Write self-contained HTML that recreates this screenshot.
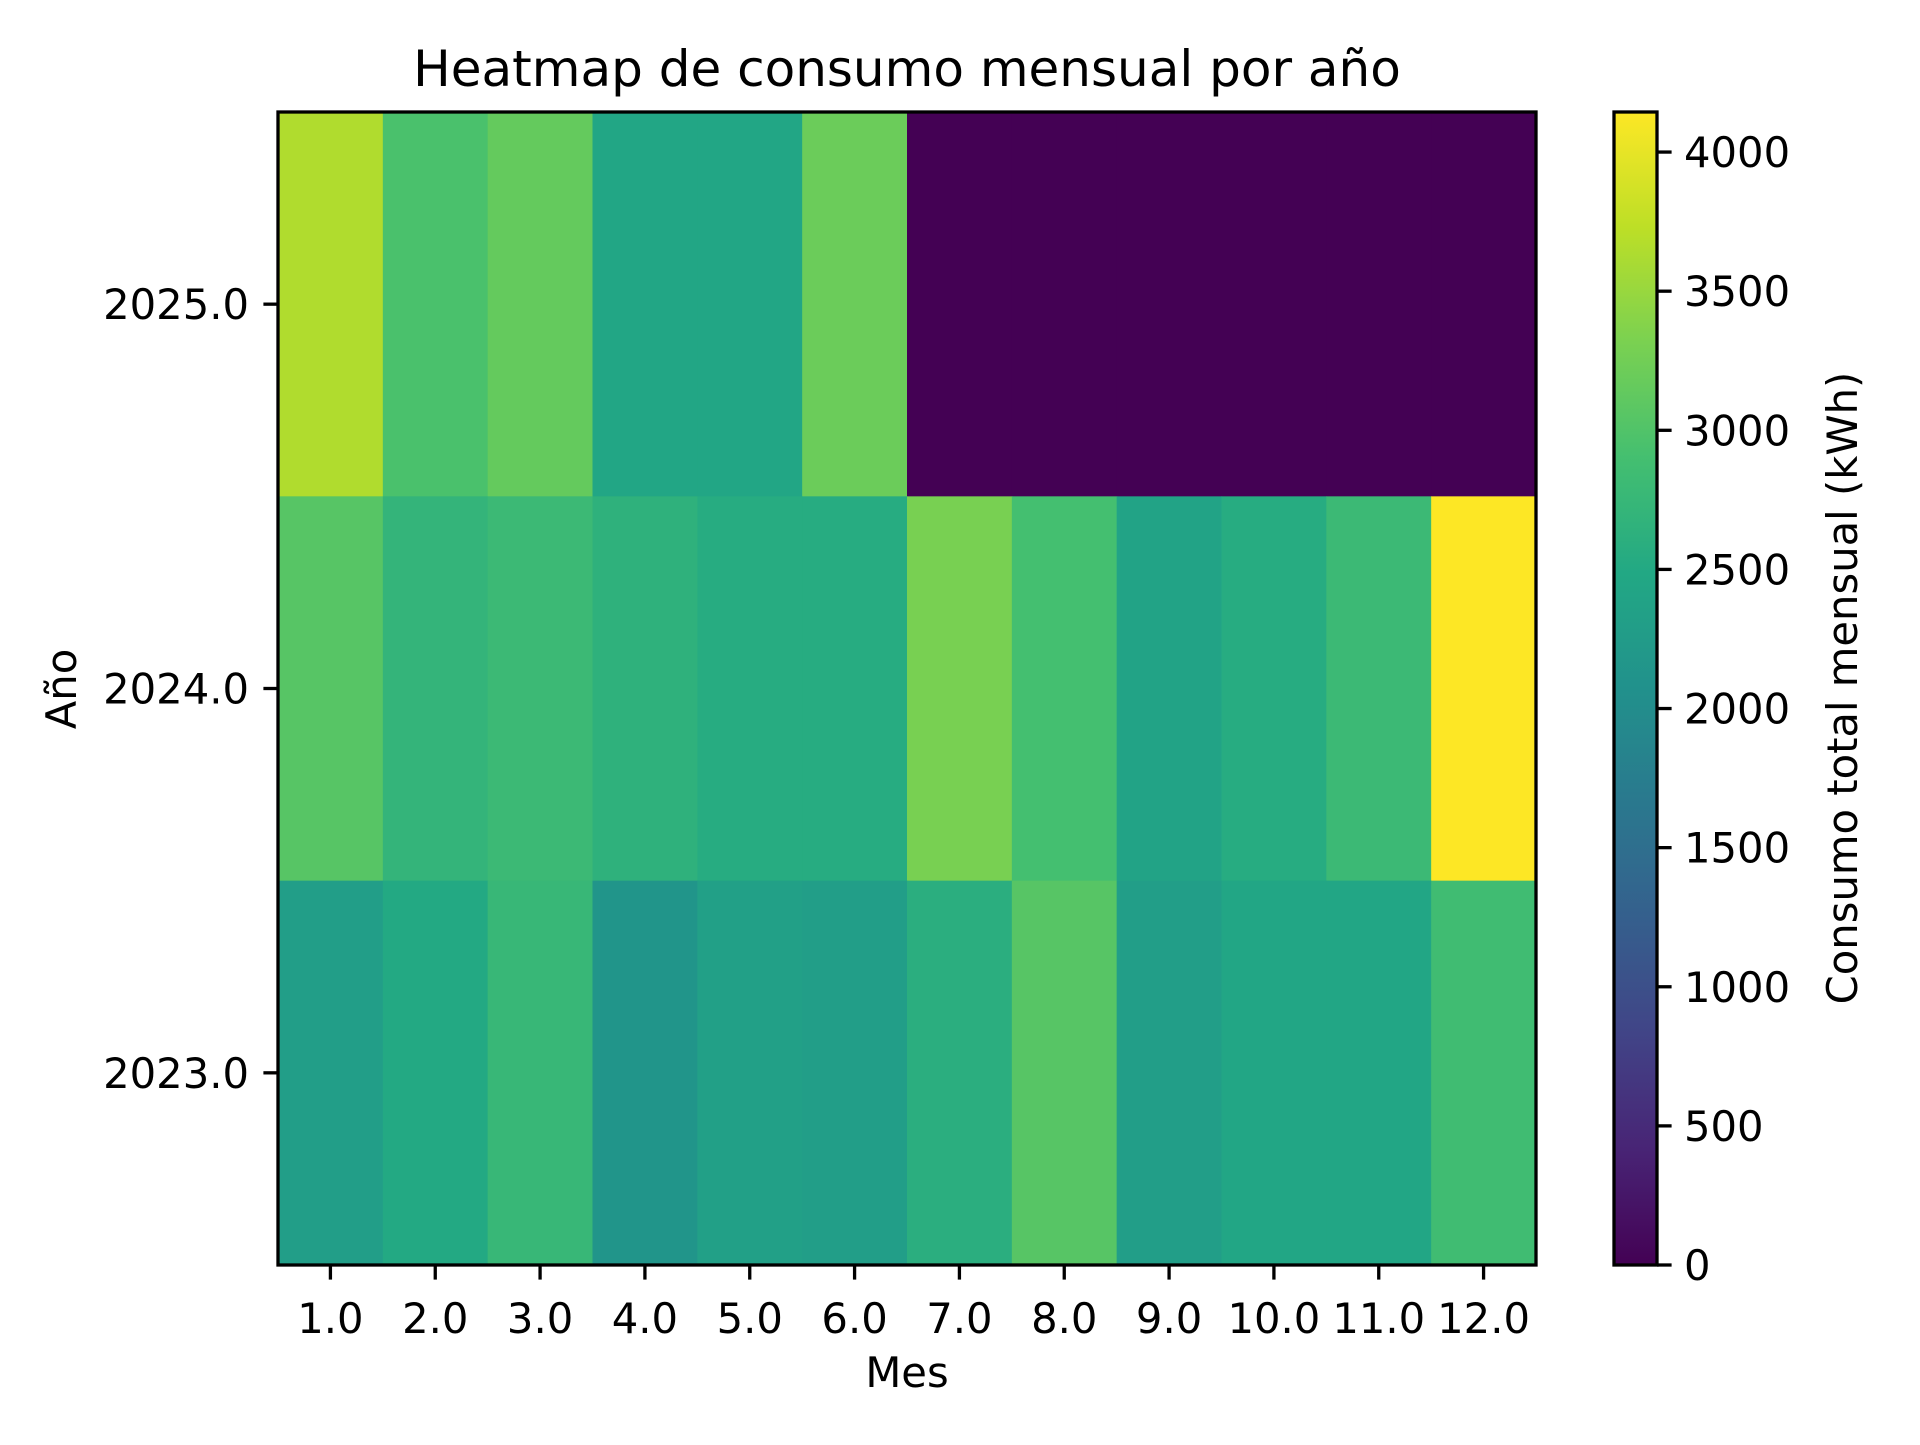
<!DOCTYPE html>
<html><head><meta charset="utf-8"><style>
html,body{margin:0;padding:0;background:#fff;}
svg text{font-family:"DejaVu Sans","Liberation Sans",sans-serif;fill:#000;}
</style></head><body>
<svg id="chart" xmlns="http://www.w3.org/2000/svg" width="1920" height="1440" viewBox="0 0 1920 1440">
<rect width="1920" height="1440" fill="#fff"/>
<text x="907" y="86" font-size="50" text-anchor="middle">Heatmap de consumo mensual por año</text>
<g id="cells"></g>
<rect x="278" y="112" width="1258" height="1153" fill="none" stroke="#000" stroke-width="3.3"/>
<g id="xticks"></g>
<g id="yticks"></g>
<text x="907" y="1387" font-size="41.7" text-anchor="middle">Mes</text>
<text transform="translate(76,689) rotate(-90)" font-size="41.7" text-anchor="middle">Año</text>
<defs><linearGradient id="cbg" x1="0" y1="1" x2="0" y2="0"></linearGradient></defs>
<rect x="1614" y="112" width="43" height="1153" fill="url(#cbg)" stroke="#000" stroke-width="3.3"/>
<g id="cticks"></g>
<text transform="translate(1857,688) rotate(-90)" font-size="41.7" text-anchor="middle">Consumo total mensual (kWh)</text>
</svg>
<script>
const months = [1,2,3,4,5,6,7,8,9,10,11,12];
const monthLabels = ["1.0","2.0","3.0","4.0","5.0","6.0","7.0","8.0","9.0","10.0","11.0","12.0"];
const years = [2025, 2024, 2023];
const yearLabels = ["2025.0","2024.0","2023.0"];
const values2025 = [3650, 2950, 3150, 2450, 2450, 3200, 0, 0, 0, 0, 0, 0];
const values2024 = [3050, 2700, 2800, 2650, 2550, 2550, 3300, 2900, 2400, 2550, 2800, 4144];
const values2023 = [2300, 2500, 2750, 2150, 2350, 2300, 2600, 3050, 2300, 2450, 2450, 2850];
const colorTicks = [0,500,1000,1500,2000,2500,3000,3500,4000];
const vmin = 0, vmax = 4144;

const VIR = [[68,1,84],[72,36,117],[65,68,135],[53,95,141],[42,120,142],[33,145,140],[34,168,132],[68,191,112],[122,209,81],[189,223,38],[253,231,37]];
function viridis(t){t=Math.max(0,Math.min(1,t));const p=t*(VIR.length-1);const i=Math.min(VIR.length-2,Math.floor(p));const f=p-i;
const c=VIR[i].map((v,k)=>Math.round(v+(VIR[i+1][k]-v)*f));return `rgb(${c[0]},${c[1]},${c[2]})`;}
const L=278,R=1536,T=112,B=1265;
const cw=(R-L)/months.length, rh=(B-T)/years.length;
function xPos(m){return L+(months.indexOf(m)+0.5)*cw;}
function yPos(y){return T+(years.indexOf(y)+0.5)*rh;}
function cbY(v){return B-(v-vmin)/(vmax-vmin)*(B-T);}
const NS="http://www.w3.org/2000/svg";
function mk(tag,attrs,parent){const e=document.createElementNS(NS,tag);for(const k in attrs)e.setAttribute(k,attrs[k]);parent.appendChild(e);return e;}
const rows=[values2025,values2024,values2023];
const cells=document.getElementById('cells');
rows.forEach((row,ri)=>{row.forEach((v,mi)=>{
 const r=mk('rect',{x:xPos(months[mi])-cw/2,y:yPos(years[ri])-rh/2,width:cw+0.6,height:rh+0.6,fill:viridis((v-vmin)/(vmax-vmin))},cells);
 
 
});});
const xt=document.getElementById('xticks');
months.forEach((m,i)=>{const x=xPos(m);
 const l=mk('line',{x1:x,x2:x,y1:B,y2:B+14.6,stroke:'#000','stroke-width':3.3},xt);
 
 
 const t=mk('text',{x:x,y:B+68,'font-size':41.7,'text-anchor':'middle'},xt);t.textContent=monthLabels[i];
 
 
});
const yt=document.getElementById('yticks');
years.forEach((y,i)=>{const yy=yPos(y);
 const l=mk('line',{x1:L-14.6,x2:L,y1:yy,y2:yy,stroke:'#000','stroke-width':3.3},yt);
 
 
 const t=mk('text',{x:L-29,y:yy+15,'font-size':41.7,'text-anchor':'end'},yt);t.textContent=yearLabels[i];
 
 
});
const g=document.getElementById('cbg');
for(let i=0;i<=20;i++){const s=mk('stop',{offset:(i/20),'stop-color':viridis(i/20)},g);}
const ct=document.getElementById('cticks');
colorTicks.forEach(v=>{const yy=cbY(v);
 const l=mk('line',{x1:1657,x2:1671.6,y1:yy,y2:yy,stroke:'#000','stroke-width':3.3},ct);
 
 
 const t=mk('text',{x:1684,y:yy+15,'font-size':41.7},ct);t.textContent=String(v);
 
 
});
</script>
</body></html>
